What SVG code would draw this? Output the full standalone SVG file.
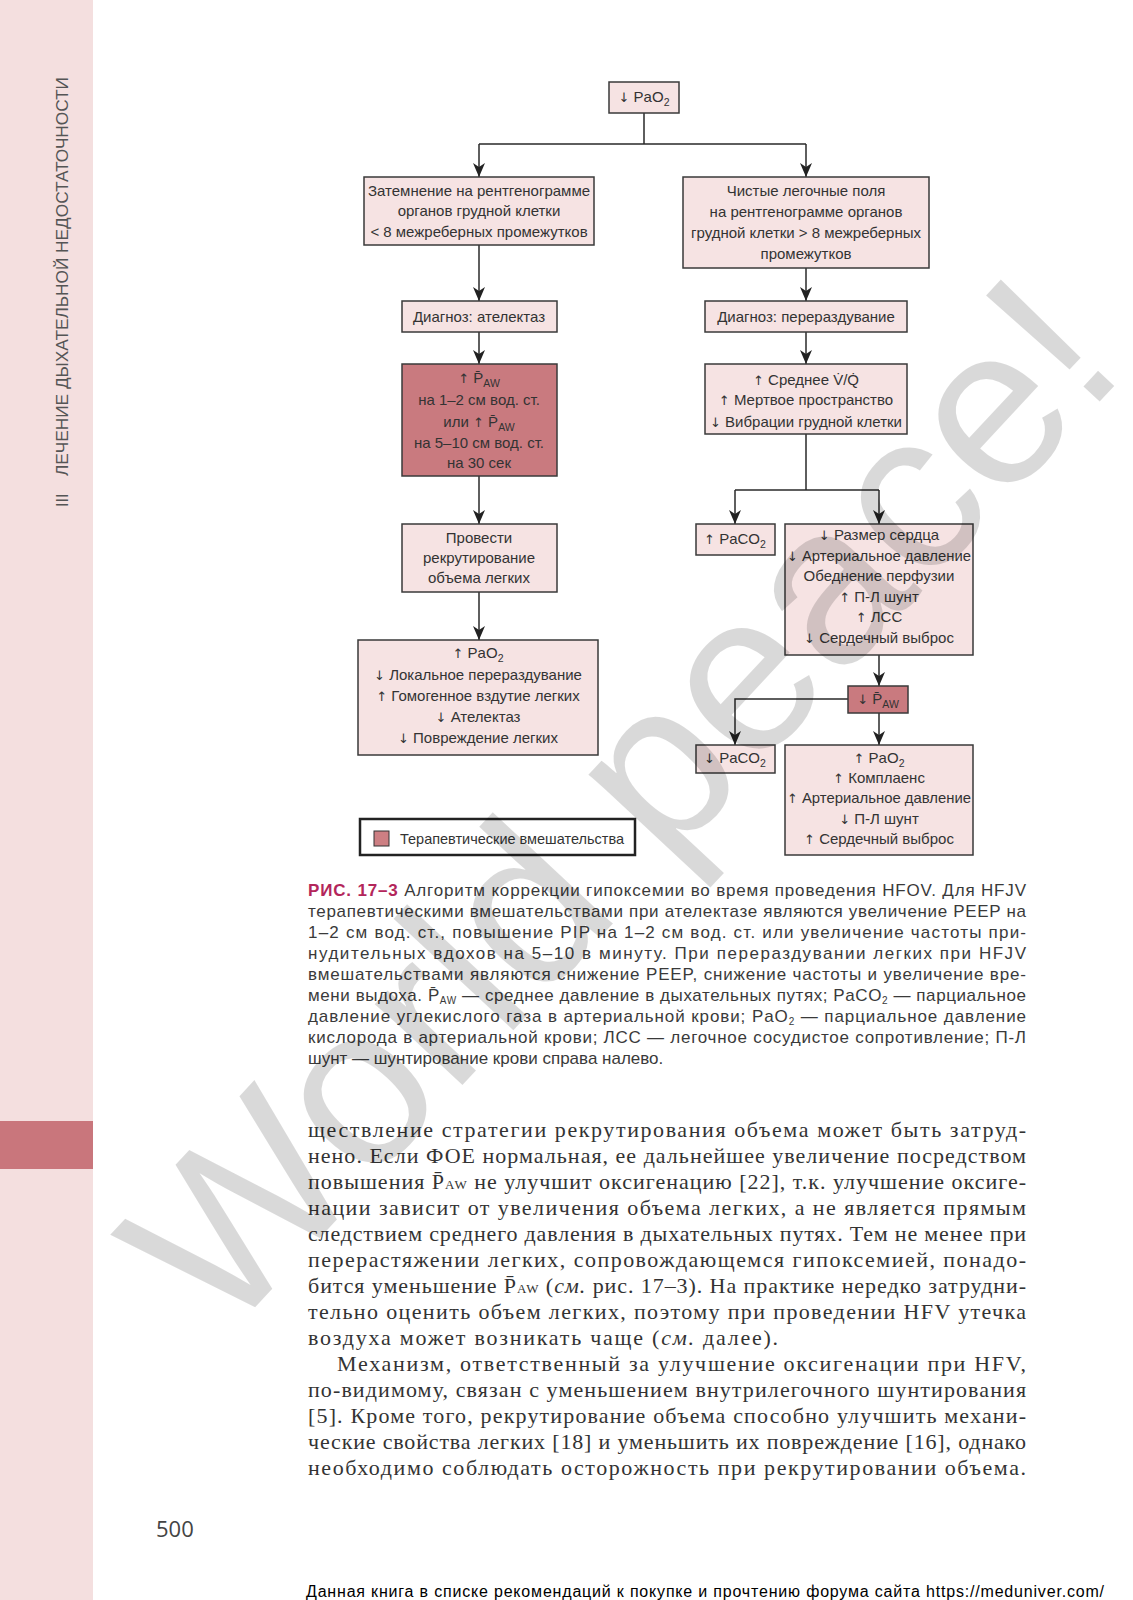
<svg xmlns="http://www.w3.org/2000/svg" width="1133" height="1600" viewBox="0 0 1133 1600">
<defs>
<marker id="ah" markerUnits="userSpaceOnUse" markerWidth="16" markerHeight="14" viewBox="-1 -7 16 14" refX="14" refY="0" orient="auto">
<path d="M0,-6 L14,0 L0,6 L4,0 z" fill="#222"/>
</marker>
<style>
.box{fill:#f6e3e3;stroke:#3a3a3a;stroke-width:1.5}
.dark{fill:#c97a7f;stroke:#3a3a3a;stroke-width:1.5}
.fc{font-family:"Liberation Sans",Arial,sans-serif;font-size:15px;fill:#333;text-anchor:middle}
.sub{font-size:10.5px}
.ar{font-family:"DejaVu Sans",sans-serif;font-size:13px}
.ln{fill:none;stroke:#2a2a2a;stroke-width:1.5}
.arr{fill:none;stroke:#2a2a2a;stroke-width:1.5;marker-end:url(#ah)}
.cap{font-family:"Liberation Sans",Arial,sans-serif;font-size:17px;fill:#3a3a3a}
.body{font-family:"Liberation Serif","Times New Roman",serif;font-size:22px;fill:#333}
</style>
</defs>
<rect width="1133" height="1600" fill="#ffffff"/>
<rect x="0" y="0" width="93" height="1600" fill="#f4dfdf"/>
<rect x="0" y="1121" width="93" height="48" fill="#c9767c"/>
<g id="sidebar-title">
<text transform="translate(68,507) rotate(-90)" font-family="Liberation Sans,Arial,sans-serif" font-size="16" fill="#555">III</text>
<text transform="translate(68,476) rotate(-90)" font-family="Liberation Sans,Arial,sans-serif" font-size="16" fill="#555" textLength="399" lengthAdjust="spacingAndGlyphs">ЛЕЧЕНИЕ ДЫХАТЕЛЬНОЙ НЕДОСТАТОЧНОСТИ</text>
</g>

<g id="connectors">
<path class="ln" d="M644,113 V144 M479,144 H806"/>
<path class="arr" d="M479,144 V177"/>
<path class="arr" d="M806,144 V177"/>
<path class="arr" d="M479,245 V301"/>
<path class="arr" d="M806,268 V301"/>
<path class="arr" d="M479,332 V364"/>
<path class="arr" d="M806,332 V364"/>
<path class="arr" d="M479,476 V524"/>
<path class="ln" d="M806,434 V490 M735,490 H879"/>
<path class="arr" d="M735,490 V524"/>
<path class="arr" d="M879,490 V524"/>
<path class="arr" d="M479,592 V640"/>
<path class="arr" d="M879,655 V686"/>
<path class="arr" d="M848,699 H735 V745"/>
<path class="arr" d="M879,713 V745"/>
</g>

<g id="n-pao2-low">
<rect class="box" x="609" y="82" width="70" height="31"/>
<text class="fc" x="644" y="102"><tspan class="ar">↓</tspan> PaO<tspan class="sub" dy="4">2</tspan></text>
</g>
<g id="n-opacity">
<rect class="box" x="364" y="177" width="230" height="68"/>
<text class="fc" x="479" y="196">Затемнение на рентгенограмме</text>
<text class="fc" x="479" y="216">органов грудной клетки</text>
<text class="fc" x="479" y="237">&lt; 8 межреберных промежутков</text>
</g>
<g id="n-clear">
<rect class="box" x="683" y="177" width="246" height="91"/>
<text class="fc" x="806" y="196">Чистые легочные поля</text>
<text class="fc" x="806" y="217">на рентгенограмме органов</text>
<text class="fc" x="806" y="238">грудной клетки &gt; 8 межреберных</text>
<text class="fc" x="806" y="259">промежутков</text>
</g>
<g id="n-atelectasis">
<rect class="box" x="402" y="301" width="155" height="31"/>
<text class="fc" x="479" y="322">Диагноз: ателектаз</text>
</g>
<g id="n-overinflation">
<rect class="box" x="705" y="301" width="202" height="31"/>
<text class="fc" x="806" y="322">Диагноз: перераздувание</text>
</g>
<g id="n-increase-paw">
<rect class="dark" x="402" y="364" width="155" height="112"/>
<text class="fc" x="479" y="383"><tspan class="ar">↑</tspan> P̄<tspan class="sub" dy="4">AW</tspan></text>
<text class="fc" x="479" y="405">на 1–2 см вод. ст.</text>
<text class="fc" x="479" y="427">или <tspan class="ar">↑</tspan> P̄<tspan class="sub" dy="4">AW</tspan></text>
<text class="fc" x="479" y="448">на 5–10 см вод. ст.</text>
<text class="fc" x="479" y="468">на 30 сек</text>
</g>
<g id="n-vq">
<rect class="box" x="705" y="364" width="202" height="70"/>
<text class="fc" x="806" y="385"><tspan class="ar">↑</tspan> Среднее V̇/Q̇</text>
<text class="fc" x="806" y="405"><tspan class="ar">↑</tspan> Мертвое пространство</text>
<text class="fc" x="806" y="427"><tspan class="ar">↓</tspan> Вибрации грудной клетки</text>
</g>
<g id="n-recruit">
<rect class="box" x="402" y="524" width="155" height="68"/>
<text class="fc" x="479" y="543">Провести</text>
<text class="fc" x="479" y="563">рекрутирование</text>
<text class="fc" x="479" y="583">объема легких</text>
</g>
<g id="n-result-left">
<rect class="box" x="358" y="640" width="240" height="115"/>
<text class="fc" x="478" y="658"><tspan class="ar">↑</tspan> PaO<tspan class="sub" dy="4">2</tspan></text>
<text class="fc" x="478" y="680"><tspan class="ar">↓</tspan> Локальное перераздувание</text>
<text class="fc" x="478" y="701"><tspan class="ar">↑</tspan> Гомогенное вздутие легких</text>
<text class="fc" x="478" y="722"><tspan class="ar">↓</tspan> Ателектаз</text>
<text class="fc" x="478" y="743"><tspan class="ar">↓</tspan> Повреждение легких</text>
</g>
<g id="n-paco2-up">
<rect class="box" x="696" y="524" width="79" height="31"/>
<text class="fc" x="735" y="544"><tspan class="ar">↑</tspan> PaCO<tspan class="sub" dy="4">2</tspan></text>
</g>
<g id="n-heart">
<rect class="box" x="785" y="524" width="188" height="131"/>
<text class="fc" x="879" y="540"><tspan class="ar">↓</tspan> Размер сердца</text>
<text class="fc" x="879" y="561" textLength="184" lengthAdjust="spacingAndGlyphs"><tspan class="ar">↓</tspan> Артериальное давление</text>
<text class="fc" x="879" y="581">Обеднение перфузии</text>
<text class="fc" x="879" y="602"><tspan class="ar">↑</tspan> П-Л шунт</text>
<text class="fc" x="879" y="622"><tspan class="ar">↑</tspan> ЛСС</text>
<text class="fc" x="879" y="643"><tspan class="ar">↓</tspan> Сердечный выброс</text>
</g>
<g id="n-paw-down">
<rect class="dark" x="848" y="686" width="60" height="27"/>
<text class="fc" x="878" y="704"><tspan class="ar">↓</tspan> P̄<tspan class="sub" dy="4">AW</tspan></text>
</g>
<g id="n-paco2-down">
<rect class="box" x="696" y="745" width="79" height="28"/>
<text class="fc" x="735" y="763"><tspan class="ar">↓</tspan> PaCO<tspan class="sub" dy="4">2</tspan></text>
</g>
<g id="n-result-right">
<rect class="box" x="785" y="745" width="188" height="110"/>
<text class="fc" x="879" y="763"><tspan class="ar">↑</tspan> PaO<tspan class="sub" dy="4">2</tspan></text>
<text class="fc" x="879" y="783"><tspan class="ar">↑</tspan> Комплаенс</text>
<text class="fc" x="879" y="803" textLength="184" lengthAdjust="spacingAndGlyphs"><tspan class="ar">↑</tspan> Артериальное давление</text>
<text class="fc" x="879" y="824"><tspan class="ar">↓</tspan> П-Л шунт</text>
<text class="fc" x="879" y="844"><tspan class="ar">↑</tspan> Сердечный выброс</text>
</g>
<g id="legend">
<rect x="360" y="819" width="275" height="36" fill="#ffffff" stroke="#222" stroke-width="2.5"/>
<rect x="374" y="831" width="15" height="15" fill="#cd7f83" stroke="#333" stroke-width="1"/>
<text class="fc" x="400" y="844" style="text-anchor:start" textLength="224" lengthAdjust="spacingAndGlyphs">Терапевтические вмешательства</text>
</g>

<g id="caption">
<text class="cap" x="308" y="896" textLength="718" lengthAdjust="spacing"><tspan font-weight="bold" fill="#b3265b">РИС. 17–3</tspan> Алгоритм коррекции гипоксемии во время проведения HFOV. Для HFJV</text>
<text class="cap" x="308" y="917" textLength="718" lengthAdjust="spacing">терапевтическими вмешательствами при ателектазе являются увеличение PEEP на</text>
<text class="cap" x="308" y="938" textLength="718" lengthAdjust="spacing">1–2 см вод. ст., повышение PIP на 1–2 см вод. ст. или увеличение частоты при-</text>
<text class="cap" x="308" y="959" textLength="718" lengthAdjust="spacing">нудительных вдохов на 5–10 в минуту. При перераздувании легких при HFJV</text>
<text class="cap" x="308" y="980" textLength="718" lengthAdjust="spacing">вмешательствами являются снижение PEEP, снижение частоты и увеличение вре-</text>
<text class="cap" x="308" y="1001" textLength="718" lengthAdjust="spacing">мени выдоха. P̄<tspan font-size="10" dy="3">AW</tspan><tspan dy="-3"> — среднее давление в дыхательных путях; PaCO</tspan><tspan font-size="10" dy="3">2</tspan><tspan dy="-3"> — парциальное</tspan></text>
<text class="cap" x="308" y="1022" textLength="718" lengthAdjust="spacing">давление углекислого газа в артериальной крови; PaO<tspan font-size="10" dy="3">2</tspan><tspan dy="-3"> — парциальное давление</tspan></text>
<text class="cap" x="308" y="1043" textLength="718" lengthAdjust="spacing">кислорода в артериальной крови; ЛСС — легочное сосудистое сопротивление; П-Л</text>
<text class="cap" x="308" y="1064">шунт — шунтирование крови справа налево.</text>
</g>

<g id="body-text">
<text class="body" x="308" y="1137" textLength="718" lengthAdjust="spacing">ществление стратегии рекрутирования объема может быть затруд-</text>
<text class="body" x="308" y="1163" textLength="718" lengthAdjust="spacing">нено. Если ФОЕ нормальная, ее дальнейшее увеличение посредством</text>
<text class="body" x="308" y="1189" textLength="718" lengthAdjust="spacing">повышения P̄<tspan font-size="13">AW</tspan> не улучшит оксигенацию [22], т.к. улучшение оксиге-</text>
<text class="body" x="308" y="1215" textLength="718" lengthAdjust="spacing">нации зависит от увеличения объема легких, а не является прямым</text>
<text class="body" x="308" y="1241" textLength="718" lengthAdjust="spacing">следствием среднего давления в дыхательных путях. Тем не менее при</text>
<text class="body" x="308" y="1267" textLength="718" lengthAdjust="spacing">перерастяжении легких, сопровождающемся гипоксемией, понадо-</text>
<text class="body" x="308" y="1293" textLength="718" lengthAdjust="spacing">бится уменьшение P̄<tspan font-size="13">AW</tspan> (<tspan font-style="italic">см.</tspan> рис. 17–3). На практике нередко затрудни-</text>
<text class="body" x="308" y="1319" textLength="718" lengthAdjust="spacing">тельно оценить объем легких, поэтому при проведении HFV утечка</text>
<text class="body" x="308" y="1345" textLength="470" lengthAdjust="spacing">воздуха может возникать чаще (<tspan font-style="italic">см.</tspan> далее).</text>
<text class="body" x="337" y="1371" textLength="689" lengthAdjust="spacing">Механизм, ответственный за улучшение оксигенации при HFV,</text>
<text class="body" x="308" y="1397" textLength="718" lengthAdjust="spacing">по-видимому, связан с уменьшением внутрилегочного шунтирования</text>
<text class="body" x="308" y="1423" textLength="718" lengthAdjust="spacing">[5]. Кроме того, рекрутирование объема способно улучшить механи-</text>
<text class="body" x="308" y="1449" textLength="718" lengthAdjust="spacing">ческие свойства легких [18] и уменьшить их повреждение [16], однако</text>
<text class="body" x="308" y="1475" textLength="718" lengthAdjust="spacing">необходимо соблюдать осторожность при рекрутировании объема.</text>
</g>

<text id="page-number" x="156" y="1537" font-family="Open Sans,Liberation Sans,sans-serif" font-size="22" fill="#444">500</text>
<text id="footer" x="306" y="1597" font-family="Liberation Sans,Arial,sans-serif" font-size="16" fill="#000" textLength="798" lengthAdjust="spacing">Данная книга в списке рекомендаций к покупке и прочтению форума сайта https://meduniver.com/</text>

<text id="watermark" x="676" y="856" transform="rotate(-47 676 856)" font-family="Liberation Sans,Arial,sans-serif" font-size="226" text-anchor="middle" fill="#000" fill-opacity="0.15">World peace!</text>
</svg>
